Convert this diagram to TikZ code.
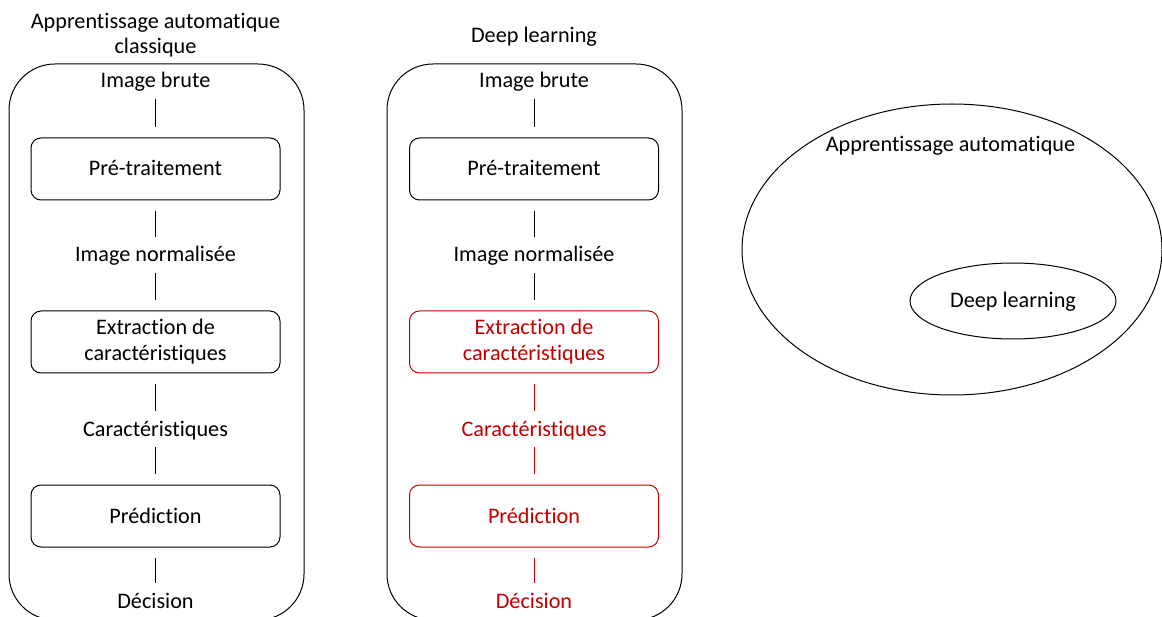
\documentclass[tikz,border=0pt]{standalone}
\usepackage{fontspec}
\setmainfont{Carlito}[Ligatures=NoCommon]
\usetikzlibrary{shapes.geometric}
\definecolor{dred}{RGB}{192,0,0}
\begin{document}
\begin{tikzpicture}[x=1pt,y=-1pt,
  font=\fontsize{22.2}{26}\selectfont,
  line width=1pt,
  lbl/.style={inner sep=0pt, text height=14pt, text depth=0pt, anchor=base},
  container/.style={draw, rounded corners=46pt, minimum width=295pt, minimum height=556pt, inner sep=0pt},
  stepbox/.style={draw, rounded corners=10pt, minimum width=249pt, minimum height=62pt, inner sep=0pt, align=center, text height=14pt, text depth=0pt},
  twobox/.style={draw, rounded corners=10pt, minimum width=249pt, minimum height=62pt, inner sep=0pt, align=center},
  conn/.style={shorten <=10.5pt, shorten >=10.5pt},
  hl/.style={dred}
]
\useasboundingbox (0,0) rectangle (1162,617);
\clip (0,0) rectangle (1162,617);

% ---------- left column ----------
\node[lbl] (T1a) at (155.5,29) {Apprentissage automatique};
\node[lbl] (T1b) at (155.5,54) {classique};
\node[container] (L) at (156.5,342) {};
\node[lbl] (La) at (155.5,88) {Image brute};
\node[stepbox] (Lb) at (155.5,169) {Pré-traitement};
\node[lbl] (Lc) at (155.5,262) {Image normalisée};
\node[twobox] (Ld) at (155.5,342) {Extraction de\\caractéristiques};
\node[lbl] (Le) at (155.5,436) {Caractéristiques};
\node[stepbox] (Lf) at (155.5,516) {Prédiction};
\node[lbl] (Lg) at (155.5,608) {Décision};
\draw[conn] (La.south) -- (Lb.north);
\draw[conn] (Lb.south) -- (Lc.north);
\draw[conn] (Lc.south) -- (Ld.north);
\draw[conn] (Ld.south) -- (Le.north);
\draw[conn] (Le.south) -- (Lf.north);
\draw[conn] (Lf.south) -- (Lg.north);

% ---------- middle column ----------
\node[lbl] (T2) at (534,43) {Deep learning};
\node[container] (M) at (534.5,342) {};
\node[lbl] (Ma) at (534,88) {Image brute};
\node[stepbox] (Mb) at (534,169) {Pré-traitement};
\node[lbl] (Mc) at (534,262) {Image normalisée};
\node[twobox, hl] (Md) at (534,342) {Extraction de\\caractéristiques};
\node[lbl, hl] (Me) at (534,436) {Caractéristiques};
\node[stepbox, hl] (Mf) at (534,516) {Prédiction};
\node[lbl, hl] (Mg) at (534,608) {Décision};
\draw[conn] (Ma.south) -- (Mb.north);
\draw[conn] (Mb.south) -- (Mc.north);
\draw[conn] (Mc.south) -- (Md.north);
\draw[conn, hl] (Md.south) -- (Me.north);
\draw[conn, hl] (Me.south) -- (Mf.north);
\draw[conn, hl] (Mf.south) -- (Mg.north);

% ---------- right: ellipses ----------
\node[draw, ellipse, minimum width=420pt, minimum height=291pt, inner sep=0pt] (ML) at (952,249.5) {};
\node[lbl] (MLt) at (950.5,151.5) {Apprentissage automatique};
\node[draw, ellipse, minimum width=206pt, minimum height=76pt, inner sep=0pt, text height=14pt, text depth=0pt] (DL) at (1013,301) {Deep learning};
\end{tikzpicture}
\end{document}
